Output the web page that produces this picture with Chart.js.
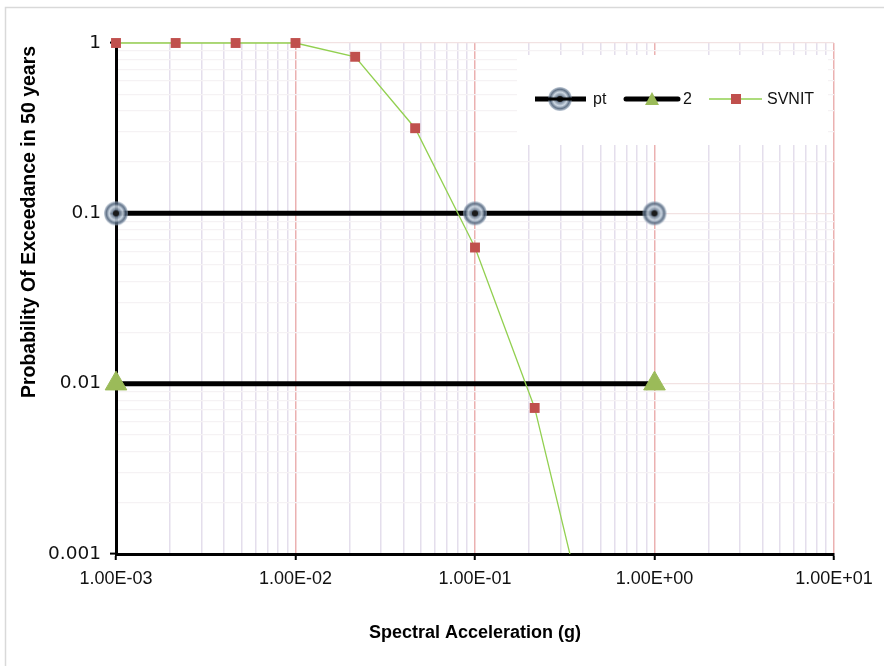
<!DOCTYPE html>
<html>
<head>
<meta charset="utf-8">
<script src="https://cdn.jsdelivr.net/npm/chart.js@4"></script>
<style>
  html, body { margin: 0; padding: 0; background: #fff; }
  #wrap { width: 884px; height: 666px; position: relative; }
</style>
</head>
<body>
<div id="wrap"><canvas id="myChart" width="884" height="666"></canvas></div>
<script>

// tick labels on the two log axes
var xTickValues = [0.001, 0.01, 0.1, 1, 10];
var xTickLabels = ["1.00E-03", "1.00E-02", "1.00E-01", "1.00E+00", "1.00E+01"];
var yTickValues = [0.001, 0.01, 0.1, 1];
var yTickLabels = ["0.001", "0.01", "0.1", "1"];

// series "pt"
var ptX = [0.001, 0.1, 1];
var ptY = [0.1, 0.1, 0.1];

// series "2"
var twoX = [0.001, 1];
var twoY = [0.01, 0.01];

// series "SVNIT" (last point falls below the axis and gets clipped)
var svnitX = [0.001, 0.00215, 0.00464, 0.01, 0.0215, 0.0464, 0.1, 0.215, 0.464];
var svnitY = [1, 1, 1, 1, 0.83, 0.316, 0.063, 0.0072, 0.00025];

var seriesNames = ["pt", "2", "SVNIT"];

function toPoints(xs, ys){
	return xs.map(function(x, i){ return {x: x, y: ys[i]}; });
}

// all 1..9 ticks per decade, used for the minor grid lines
function logTicks(min, max){
	var out = [];
	for (var e = Math.round(Math.log10(min)); e < Math.round(Math.log10(max)); e++) {
		for (var m = 1; m <= 9; m++) out.push(m * Math.pow(10, e));
	}
	out.push(max);
	return out;
}

function isDecade(v){
	var l = Math.log10(v);
	return Math.abs(l - Math.round(l)) < 1e-6;
}

// the blurry bluish marker Excel used for "pt"
function makePtMarker(){
	var c = document.createElement('canvas');
	c.width = 26; c.height = 26;
	var g = c.getContext('2d');
	var grad = g.createRadialGradient(13, 13, 2, 13, 13, 13);
	grad.addColorStop(0, 'rgba(60,80,105,0.9)');
	grad.addColorStop(0.45, 'rgba(200,212,225,0.9)');
	grad.addColorStop(0.7, 'rgba(70,90,115,0.85)');
	grad.addColorStop(1, 'rgba(190,205,222,0.5)');
	g.fillStyle = grad;
	g.beginPath();
	g.arc(13, 13, 12, 0, Math.PI * 2);
	g.fill();
	g.fillStyle = '#1a1a1a';
	g.beginPath();
	g.arc(13, 13, 3, 0, Math.PI * 2);
	g.fill();
	return c;
}
var ptMarker = makePtMarker();

// markers on the plot edge must not be cut, but the line stops at the bottom axis
var edgeClip = { left: 16, top: 16, right: 16, bottom: 0 };

var bgPlugin = {
	id: 'bg',
	beforeDraw: function(chart){
		var ctx = chart.ctx;
		ctx.save();
		ctx.fillStyle = '#fff';
		ctx.fillRect(0, 0, chart.width, chart.height);
		ctx.strokeStyle = '#d9d9d9';
		ctx.lineWidth = 1.5;
		ctx.strokeRect(5.5, 7.5, chart.width + 10, chart.height + 10);
		ctx.restore();
	}
};

// y title sits higher than the plot centre in the original, and the legend is inside the plot
var extrasPlugin = {
	id: 'extras',
	afterDraw: function(chart){
		var ctx = chart.ctx;
		ctx.save();
		ctx.translate(30, 222);
		ctx.rotate(-Math.PI / 2);
		ctx.font = 'bold 19.5px "Liberation Sans", Arial, sans-serif';
		ctx.fillStyle = '#000';
		ctx.textAlign = 'center';
		ctx.textBaseline = 'middle';
		ctx.fillText('Probability Of Exceedance in 50 years', 0, 0);
		ctx.restore();

		ctx.save();
		ctx.fillStyle = '#fff';
		ctx.fillRect(517, 55, 311, 90);
		var y = 99;
		ctx.font = '16px "Liberation Sans", Arial, sans-serif';
		ctx.fillStyle = '#111';
		ctx.textBaseline = 'middle';

		ctx.strokeStyle = '#000';
		ctx.lineWidth = 5;
		ctx.beginPath(); ctx.moveTo(535, y); ctx.lineTo(586, y); ctx.stroke();
		ctx.drawImage(ptMarker, 560 - 13, y - 13);
		ctx.strokeStyle = '#000';
		ctx.lineWidth = 3;
		ctx.beginPath(); ctx.moveTo(548, y); ctx.lineTo(572, y); ctx.stroke();
		ctx.fillText(seriesNames[0], 593, y + 1);

		ctx.lineCap = 'round';
		ctx.lineWidth = 5;
		ctx.beginPath(); ctx.moveTo(626, y); ctx.lineTo(678, y); ctx.stroke();
		ctx.lineCap = 'butt';
		ctx.fillStyle = '#9bbb59';
		ctx.beginPath(); ctx.moveTo(652, y - 7); ctx.lineTo(659, y + 6); ctx.lineTo(645, y + 6); ctx.closePath(); ctx.fill();
		ctx.fillStyle = '#111';
		ctx.fillText(seriesNames[1], 683, y + 1);

		ctx.strokeStyle = '#92d050';
		ctx.lineWidth = 1.3;
		ctx.beginPath(); ctx.moveTo(709, y); ctx.lineTo(762, y); ctx.stroke();
		ctx.fillStyle = '#c0504d';
		ctx.fillRect(731, y - 5, 10, 10);
		ctx.fillStyle = '#111';
		ctx.fillText(seriesNames[2], 767, y + 1);
		ctx.restore();
	}
};

var ctx = document.getElementById("myChart");
var chartInstance = new Chart(ctx, {
	type: 'line',
	data: {
		datasets: [
			{
				label: seriesNames[0],
				data: toPoints(ptX, ptY),
				borderColor: '#000',
				borderWidth: 5,
				pointStyle: ptMarker,
				pointRadius: 12,
				clip: edgeClip,
				order: 2
			},
			{
				label: seriesNames[1],
				data: toPoints(twoX, twoY),
				borderColor: '#000',
				borderWidth: 5,
				pointStyle: 'triangle',
				pointRadius: 12.5,
				pointBackgroundColor: '#9bbb59',
				pointBorderColor: '#9bbb59',
				pointBorderWidth: 1,
				clip: edgeClip,
				order: 3
			},
			{
				label: seriesNames[2],
				data: toPoints(svnitX, svnitY),
				borderColor: '#92d050',
				borderWidth: 1.3,
				pointStyle: 'rect',
				pointRadius: 7,
				pointBackgroundColor: '#c0504d',
				pointBorderColor: '#c0504d',
				pointBorderWidth: 0,
				clip: edgeClip,
				order: 1
			}
		]
	},
	options: {
		responsive: false,
		animation: false,
		events: [],
		layout: { padding: { left: 0, top: 43, right: 50, bottom: 0 } },
		plugins: { legend: { display: false }, tooltip: { enabled: false } },
		scales: {
			x: {
				type: 'logarithmic',
				min: xTickValues[0],
				max: xTickValues[xTickValues.length - 1],
				afterBuildTicks: function(scale){
					scale.ticks = logTicks(scale.min, scale.max).map(function(v){ return {value: v, major: isDecade(v)}; });
				},
				afterFit: function(scale){ scale.height = 112; },
				border: { color: '#000', width: 3 },
				grid: {
					color: function(c){ return c.tick && isDecade(c.tick.value) ? '#ebb1b1' : '#e4deec'; },
					lineWidth: 1.5,
					tickLength: 6,
					tickColor: function(c){ return c.tick && isDecade(c.tick.value) ? '#000' : 'rgba(0,0,0,0)'; },
					tickWidth: 2
				},
				ticks: {
					autoSkip: false,
					maxRotation: 0,
					padding: 8,
					color: '#111',
					font: { family: '"Liberation Sans", Arial, sans-serif', size: 18 },
					callback: function(v){
						var i = xTickValues.findIndex(function(t){ return Math.abs(t - v) / t < 1e-6; });
						return i >= 0 ? xTickLabels[i] : '';
					}
				},
				title: {
					display: true,
					text: 'Spectral Acceleration (g)',
					color: '#000',
					font: { family: '"Liberation Sans", Arial, sans-serif', size: 18, weight: 'bold' },
					padding: { top: 0, bottom: 22 }
				}
			},
			y: {
				type: 'logarithmic',
				min: yTickValues[0],
				max: yTickValues[yTickValues.length - 1],
				afterBuildTicks: function(scale){
					scale.ticks = logTicks(scale.min, scale.max).map(function(v){ return {value: v, major: isDecade(v)}; });
				},
				afterFit: function(scale){ scale.width = 116; },
				border: { color: '#000', width: 3 },
				grid: {
					color: function(c){ return c.tick && isDecade(c.tick.value) ? '#f2e2e2' : '#f5f2f4'; },
					lineWidth: 1.2,
					tickLength: 6,
					tickColor: function(c){ return c.tick && isDecade(c.tick.value) ? '#000' : 'rgba(0,0,0,0)'; },
					tickWidth: 2
				},
				ticks: {
					autoSkip: false,
					padding: 9,
					color: '#111',
					font: { family: '"DejaVu Sans", sans-serif', size: 18.5 },
					callback: function(v){
						var i = yTickValues.findIndex(function(t){ return Math.abs(t - v) / t < 1e-6; });
						return i >= 0 ? yTickLabels[i] : '';
					}
				}
			}
		}
	},
	plugins: [bgPlugin, extrasPlugin]
});
</script>
</body>
</html>
